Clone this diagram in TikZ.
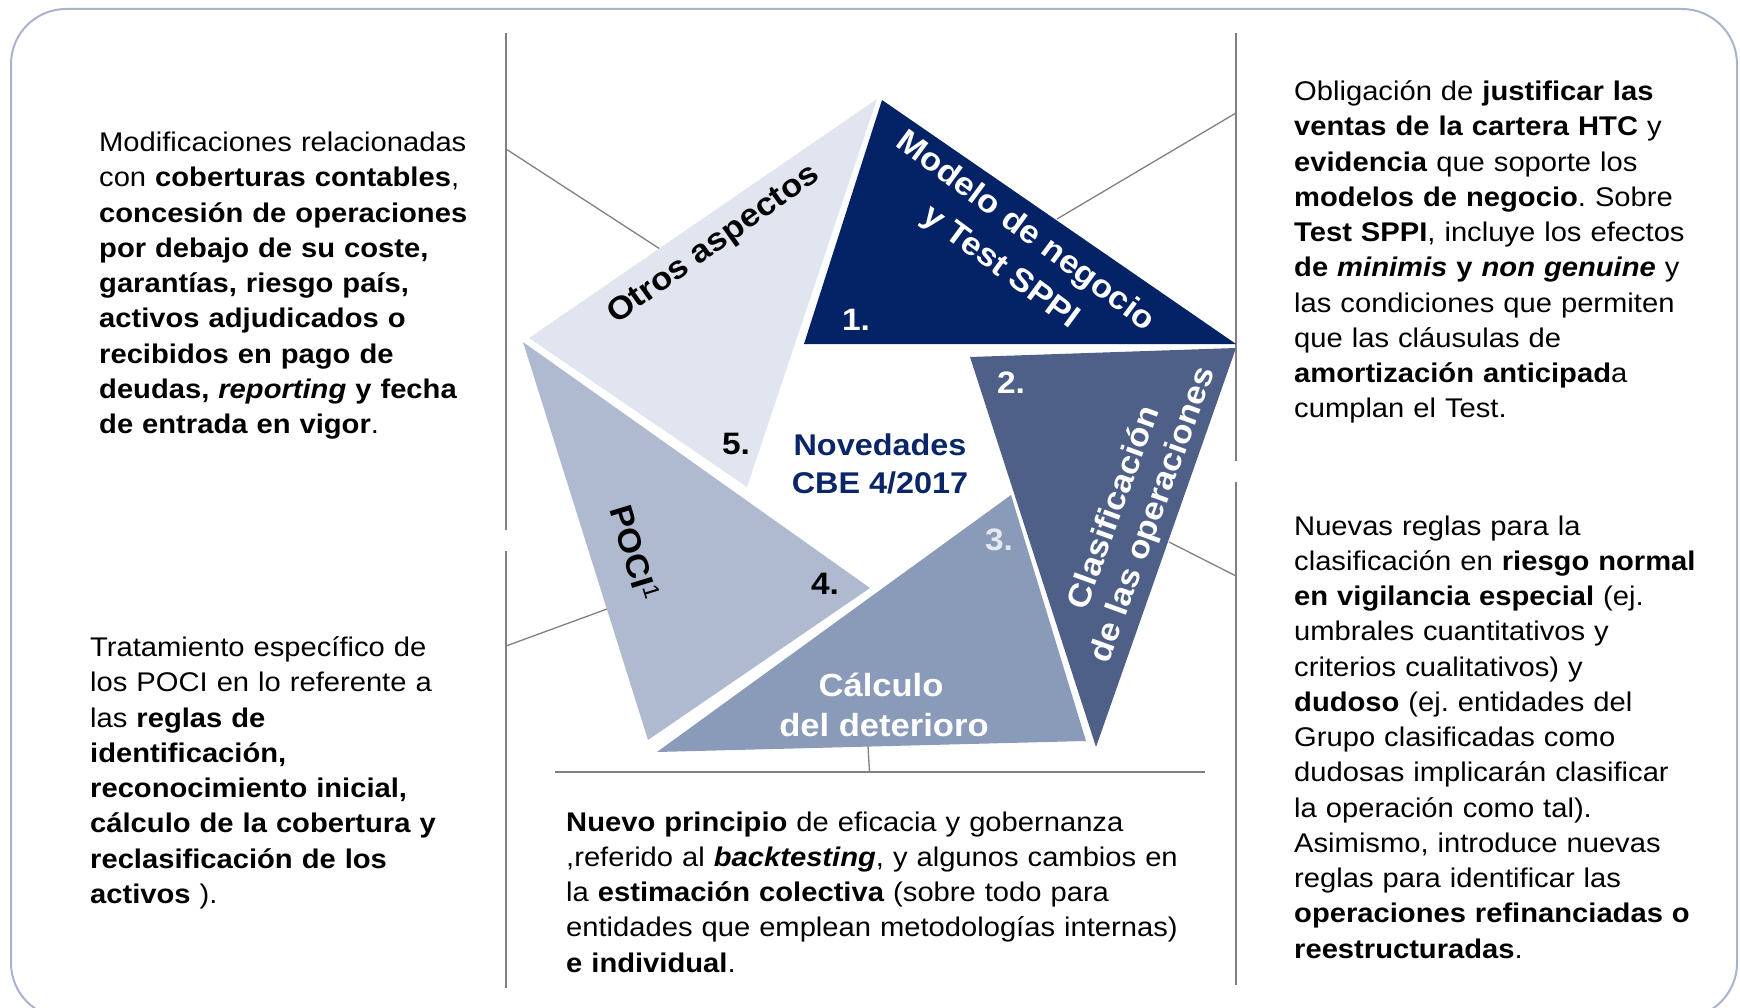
\documentclass[tikz,border=0pt]{standalone}
\usepackage{fontspec}
\setmainfont{Liberation Sans}[FakeStretch=1.08]
\frenchspacing
\definecolor{navy}{RGB}{4,34,102}
\definecolor{slate}{RGB}{79,96,136}
\definecolor{midblue}{RGB}{138,154,185}
\definecolor{lightblue}{RGB}{175,186,208}
\definecolor{paleblue}{RGB}{224,229,239}
\definecolor{framecol}{RGB}{168,179,205}
\definecolor{rulecol}{RGB}{128,128,128}
\definecolor{ctext}{RGB}{10,38,104}
\definecolor{numpale}{RGB}{228,232,240}
\tikzset{
  body/.style={anchor=base west, text width=#1, align=left, inner sep=0pt, font=\frenchspacing\fontsize{27}{35.25}\selectfont},
  trilabel/.style={font=\bfseries\fontsize{32}{37}\selectfont, inner sep=0pt},
  numlabel/.style={font=\bfseries\fontsize{31}{36}\selectfont, inner sep=0pt},
  divider/.style={draw=rulecol, line width=1.3pt},
  leader/.style={draw=rulecol, line width=1.3pt},
}
\begin{document}
\begin{tikzpicture}[x=1pt,y=-1pt]
\useasboundingbox (0,0) rectangle (1740,1008);
\begin{scope}
\clip (0,0) rectangle (1740,1008);
\draw[framecol, line width=2pt, rounded corners=55pt] (11,9) rectangle (1737,1018);
\end{scope}

% dividers
\draw[divider] (506,33) -- (506,530);
\draw[divider] (506,551) -- (506,988);
\draw[divider] (1236,33) -- (1236,461);
\draw[divider] (1236,482) -- (1236,985);
\draw[divider] (555,772) -- (1205,772);

% leader lines
\coordinate (ul1) at (506,149); \coordinate (ul2) at (660,249);
\coordinate (ur1) at (1236,113); \coordinate (ur2) at (1057,219);
\coordinate (lr1) at (1236,576); \coordinate (lr2) at (1169,542);
\coordinate (ll1) at (506,646); \coordinate (ll2) at (607,609);
\coordinate (bm1) at (868,746); \coordinate (bm2) at (869.5,772);
\draw[leader] (ul1) -- (ul2);
\draw[leader] (ur1) -- (ur2);
\draw[leader] (lr1) -- (lr2);
\draw[leader] (ll1) -- (ll2);
\draw[leader] (bm1) -- (bm2);

% triangles
\fill[paleblue] (529,338) -- (877,99) -- (747,487) -- cycle;
\fill[navy] (882,100) -- (1236,344) -- (804,344) -- cycle;
\fill[slate] (970,357) -- (1236,348) -- (1096,747) -- cycle;
\fill[midblue] (1011,495) -- (1086,741) -- (657,752) -- cycle;
\fill[lightblue] (523,342) -- (870,588) -- (648,740) -- cycle;

% triangle labels
\node[trilabel, rotate=35.4] (otros) at (714,245) {Otros aspectos};
\node[trilabel, white, rotate=-36.5] (modelo1) at (1025,232) {Modelo de negocio};
\node[trilabel, white, rotate=-36.5] (modelo2) at (1000,268) {y Test SPPI};
\node[trilabel, white, rotate=70] (clas1) at (1112,507) {Clasificación};
\node[trilabel, white, rotate=70] (clas2) at (1154,515) {de las operaciones};
\node[trilabel, white] (calc1) at (881,685) {Cálculo};
\node[trilabel, white] (calc2) at (884,725) {del deterioro};
\node[trilabel, rotate=-73] (poci) at (635,553) {POCI\textsuperscript{\mdseries 1}};

% numbers
\node[numlabel, white] (n1) at (856,320) {1.};
\node[numlabel, white] (n2) at (1011,383) {2.};
\node[numlabel, numpale] (n3) at (999,540) {3.};
\node[numlabel] (n4) at (825,584) {4.};
\node[numlabel] (n5) at (736,444) {5.};

% center
\node[font=\bfseries\fontsize{30}{38}\selectfont, text=ctext, align=center, inner sep=0pt, anchor=base] (centro) at (880,493) {Novedades\\CBE 4/2017};

% text blocks
\node[body=430pt] (txtUL) at (99,151.7) {Modificaciones relacionadas\\
con \textbf{coberturas contables},\\
\textbf{concesión de operaciones}\\
\textbf{por debajo de su coste,}\\
\textbf{garantías, riesgo país,}\\
\textbf{activos adjudicados o}\\
\textbf{recibidos en pago de}\\
\textbf{deudas, \textit{reporting} y fecha}\\
\textbf{de entrada en vigor}.};

\node[body=430pt] (txtLL) at (90,656.7) {Tratamiento específico de\\
los POCI en lo referente a\\
las \textbf{reglas de}\\
\textbf{identificación,}\\
\textbf{reconocimiento inicial,}\\
\textbf{cálculo de la cobertura y}\\
\textbf{reclasificación de los}\\
\textbf{activos} ).};

\node[body=660pt] (txtBM) at (566,831) {\textbf{Nuevo principio} de eficacia y gobernanza\\
,referido al \textbf{\textit{backtesting}}, y algunos cambios en\\
la \textbf{estimación colectiva} (sobre todo para\\
entidades que emplean metodologías internas)\\
\textbf{e individual}.};

\node[body=440pt] (txtUR) at (1294,100.7) {Obligación de \textbf{justificar las}\\
\textbf{ventas de la cartera HTC} y\\
\textbf{evidencia} que soporte los\\
\textbf{modelos de negocio}. Sobre\\
\textbf{Test SPPI}, incluye los efectos\\
\textbf{de \textit{minimis} y \textit{non genuine}} y\\
las condiciones que permiten\\
que las cláusulas de\\
\textbf{amortización anticipad}a\\
cumplan el Test.};

\node[body=440pt] (txtLR) at (1294,535) {Nuevas reglas para la\\
clasificación en \textbf{riesgo normal}\\
\textbf{en vigilancia especial} (ej.\\
umbrales cuantitativos y\\
criterios cualitativos) y\\
\textbf{dudoso} (ej. entidades del\\
Grupo clasificadas como\\
dudosas implicarán clasificar\\
la operación como tal).\\
Asimismo, introduce nuevas\\
reglas para identificar las\\
\textbf{operaciones refinanciadas o}\\
\textbf{reestructuradas}.};
\end{tikzpicture}
\end{document}
